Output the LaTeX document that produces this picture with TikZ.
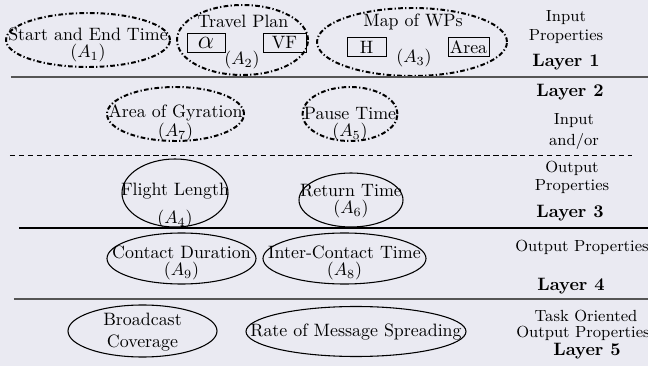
\documentclass[tikz,border=0pt]{standalone}
\usetikzlibrary{shapes.geometric}
\definecolor{bg}{HTML}{EAEAF2}
\definecolor{rule}{HTML}{555555}
\begin{document}
\begin{tikzpicture}[x=0.5587pt,y=-0.5587pt,
  dd/.style={draw, ellipse, line width=1.1pt, dash pattern=on 2.6pt off 1.3pt on 0.7pt off 1.3pt, inner sep=0pt},
  sl/.style={draw, ellipse, line width=0.6pt, inner sep=0pt},
  lbl/.style={align=center, inner sep=0pt},
  rl/.style={align=center, inner sep=0pt, font=\small},
  bx/.style={draw, line width=0.5pt, inner sep=0pt, minimum height=11pt},
  hrule/.style={line width=0.9pt, draw=rule},
]
\fill[bg] (0,0) rectangle (648,366);
\useasboundingbox (0,0) rectangle (648,366);

% ---- Layer 1
\node[dd, minimum width={164*0.5587pt}, minimum height={54*0.5587pt}] (e1) at (88,40) {};
\node[lbl] (t1) at (88,34) {Start and End Time};
\node[lbl] (a1) at (88,53) {$(A_1)$};

\node[dd, minimum width={131*0.5587pt}, minimum height={70*0.5587pt}] (e2) at (242.5,40) {};
\node[lbl] (t2) at (243,21) {Travel Plan};
\node[bx, minimum width={38*0.5587pt}] (alpha) at (206,43) {\Large$\alpha$};
\node[bx, minimum width={43*0.5587pt}] (vf) at (284.5,43) {VF};
\node[lbl] (a2) at (242,60) {$(A_2)$};

\node[dd, minimum width={190*0.5587pt}, minimum height={68*0.5587pt}] (e3) at (412,42) {};
\node[lbl] (t3) at (413,22) {Map of WPs};
\node[bx, minimum width={39*0.5587pt}] (h) at (366.5,47) {H};
\node[bx, minimum width={41*0.5587pt}] (area) at (468.5,47) {Area};
\node[lbl] (a3) at (414,58) {$(A_3)$};

\node[rl] (r1a) at (566,18) {Input};
\node[rl] (r1b) at (566,37) {Properties};
\node[lbl] (r1c) at (566,62) {\textbf{Layer 1}};

\coordinate (l1a) at (11,77); \coordinate (l1b) at (648,77);
\draw[hrule] (l1a) -- (l1b);

% ---- Layer 2
\node[dd, minimum width={137*0.5587pt}, minimum height={54*0.5587pt}] (e7) at (175.5,114) {};
\node[lbl] (t7) at (175.5,113) {Area of Gyration};
\node[lbl] (a7) at (175.5,132) {$(A_7)$};

\node[dd, minimum width={95*0.5587pt}, minimum height={54*0.5587pt}] (e5) at (350,114) {};
\node[lbl] (t5) at (350,113) {Pause Time};
\node[lbl] (a5) at (350,132) {$(A_5)$};

\node[lbl] (r2a) at (570,92) {\textbf{Layer 2}};
\node[rl] (r2b) at (574,121) {Input};
\node[rl] (r2c) at (574,141) {and/or};

\coordinate (l2a) at (10,155); \coordinate (l2b) at (632,155);
\draw[line width=0.5pt, dash pattern=on 3pt off 2pt] (l2a) -- (l2b);

% ---- Layer 3
\node[sl, minimum width={106*0.5587pt}, minimum height={68*0.5587pt}] (e4) at (175,193) {};
\node[lbl] (t4) at (175,191) {Flight Length};
\node[lbl] (a4) at (175,219) {$(A_4)$};

\node[sl, minimum width={104*0.5587pt}, minimum height={54*0.5587pt}] (e6) at (351,200) {};
\node[lbl] (t6) at (351,191) {Return Time};
\node[lbl] (a6) at (351,209) {$(A_6)$};

\node[rl] (r3a) at (572,168) {Output};
\node[rl] (r3b) at (572,187) {Properties};
\node[lbl] (r3c) at (570,213) {\textbf{Layer 3}};

\coordinate (l3a) at (19,228); \coordinate (l3b) at (648,228);
\draw[line width=0.7pt] (l3a) -- (l3b);

% ---- Layer 4
\node[sl, minimum width={149*0.5587pt}, minimum height={51*0.5587pt}] (e9) at (181.5,258.5) {};
\node[lbl] (t9) at (181.5,252) {Contact Duration};
\node[lbl] (a9) at (181.5,271) {$(A_9)$};

\node[sl, minimum width={163*0.5587pt}, minimum height={51*0.5587pt}] (e8) at (344.5,258.5) {};
\node[lbl] (t8) at (344.5,252) {Inter-Contact Time};
\node[lbl] (a8) at (344.5,271) {$(A_8)$};

\node[rl] (r4a) at (582,247) {Output Properties};
\node[lbl] (r4b) at (571,286) {\textbf{Layer 4}};

\coordinate (l4a) at (14,299); \coordinate (l4b) at (648,299);
\draw[hrule] (l4a) -- (l4b);

% ---- Layer 5
\node[sl, minimum width={149*0.5587pt}, minimum height={52*0.5587pt}] (eb) at (142.5,331) {};
\node[lbl] (tb) at (142.5,332) {Broadcast\\Coverage};

\node[sl, minimum width={220*0.5587pt}, minimum height={50*0.5587pt}] (er) at (356,331.5) {};
\node[lbl] (tr) at (356,332) {Rate of Message Spreading};

\node[rl] (r5a) at (586,316) {Task Oriented};
\node[rl] (r5b) at (583,333) {Output Properties};
\node[lbl] (r5c) at (587,351) {\textbf{Layer 5}};
\end{tikzpicture}
\end{document}
